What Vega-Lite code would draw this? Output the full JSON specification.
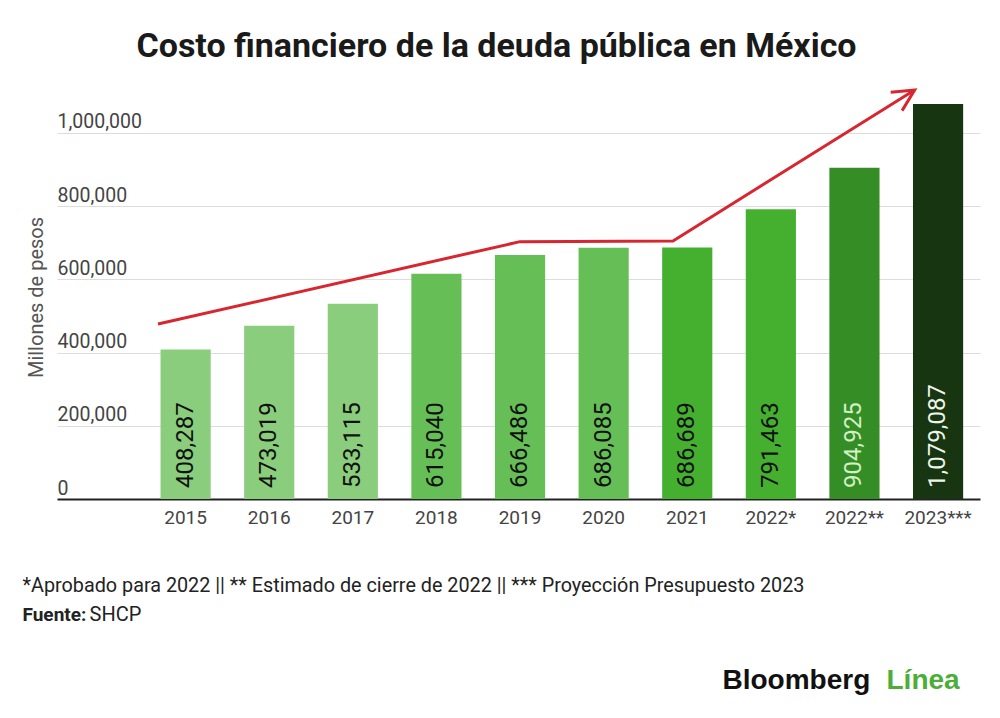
{
  "$schema": "https://vega.github.io/schema/vega-lite/v6.json",
  "background": "#ffffff",
  "autosize": {"type": "none"},
  "padding": {"left": 57, "top": 78, "right": 20, "bottom": 219},
  "width": 923,
  "height": 421,
  "config": {
    "font": "Roboto",
    "view": {"stroke": null},
    "axis": {"titleFontWeight": "normal"}
  },
  "title": {
    "text": "Costo financiero de la deuda pública en México",
    "font": "Roboto",
    "fontSize": 34,
    "fontWeight": "bold",
    "color": "#1a1a1a",
    "anchor": "middle",
    "frame": "group",
    "baseline": "alphabetic",
    "offset": 20,
    "dx": -22,
    "dy": 33
  },
  "layer": [
    {
      "data": {
        "values": [
          {"anio": "2015", "costo": 408287},
          {"anio": "2016", "costo": 473019},
          {"anio": "2017", "costo": 533115},
          {"anio": "2018", "costo": 615040},
          {"anio": "2019", "costo": 666486},
          {"anio": "2020", "costo": 686085},
          {"anio": "2021", "costo": 686689},
          {"anio": "2022*", "costo": 791463},
          {"anio": "2022**", "costo": 904925},
          {"anio": "2023***", "costo": 1079087}
        ]
      },
      "encoding": {
        "x": {
          "field": "anio",
          "type": "nominal",
          "sort": null,
          "scale": {"paddingInner": 0.4, "paddingOuter": 0.72, "align": 0.86},
          "axis": {
            "title": "*Aprobado para 2022 || ** Estimado de cierre de 2022 || *** Proyección Presupuesto 2023",
            "titleFont": "Roboto",
            "titleFontSize": 19.8,
            "titleColor": "#222222",
            "titleX": -35,
            "titleY": 92,
            "titleAlign": "left",
            "titleBaseline": "alphabetic",
            "titleAngle": 0,
            "labelAngle": 0,
            "labelFontSize": 19,
            "labelColor": "#444444",
            "labelBaseline": "alphabetic",
            "labelPadding": 24,
            "ticks": false,
            "tickSize": 0,
            "domainColor": "#222222",
            "domainWidth": 2
          }
        },
        "y": {
          "field": "costo",
          "type": "quantitative",
          "scale": {"domain": [0, 1150000], "nice": false},
          "axis": {
            "title": "Millones de pesos",
            "titleFontSize": 20,
            "titleColor": "#555555",
            "titleX": -21,
            "titleY": 219,
            "titleAlign": "center",
            "titleBaseline": "middle",
            "values": [0, 200000, 400000, 600000, 800000, 1000000],
            "format": ",d",
            "labelAlign": "left",
            "labelBaseline": "alphabetic",
            "labelOffset": -5,
            "labelPadding": 0,
            "labelFontSize": 19.5,
            "labelColor": "#444444",
            "ticks": false,
            "tickSize": 0,
            "domain": false,
            "gridColor": "#dddddd",
            "gridWidth": 1
          }
        }
      },
      "layer": [
        {
          "mark": {"type": "bar"},
          "encoding": {
            "color": {
              "field": "anio",
              "type": "nominal",
              "sort": null,
              "legend": null,
              "scale": {
                "domain": ["2015", "2016", "2017", "2018", "2019", "2020", "2021", "2022*", "2022**", "2023***"],
                "range": ["#8acd7c", "#8acd7c", "#8acd7c", "#66bf56", "#66bf56", "#66bf56", "#45b030", "#45b030", "#358e25", "#163510"]
              }
            }
          }
        },
        {
          "mark": {
            "type": "text",
            "angle": 270,
            "align": "left",
            "baseline": "middle",
            "dx": 11,
            "font": "Roboto",
            "fontSize": 24
          },
          "encoding": {
            "y": {"datum": 0},
            "text": {"field": "costo", "type": "quantitative", "format": ",d"},
            "color": {
              "condition": [
                {"test": "datum.costo > 1000000", "value": "#eef4ea"},
                {"test": "datum.costo > 850000", "value": "#d4f0c6"}
              ],
              "value": "#111111"
            }
          }
        }
      ]
    },
    {
      "data": {
        "values": [
          {"pos": -0.33, "valor": 478000},
          {"pos": 4.0, "valor": 703000},
          {"pos": 5.83, "valor": 705000},
          {"pos": 8.72, "valor": 1117000}
        ]
      },
      "mark": {"type": "line", "color": "#d7262f", "strokeWidth": 3, "clip": false},
      "encoding": {
        "x": {
          "field": "pos",
          "type": "quantitative",
          "scale": {"domain": [-1.538, 9.502], "nice": false, "zero": false},
          "axis": {
            "orient": "bottom",
            "title": "Fuente:",
            "titleFont": "Roboto",
            "titleFontSize": 19,
            "titleFontWeight": "bold",
            "titleColor": "#222222",
            "titleX": -35,
            "titleY": 121,
            "titleAlign": "left",
            "titleBaseline": "alphabetic",
            "labels": false,
            "ticks": false,
            "domain": false,
            "grid": false
          }
        },
        "y": {
          "field": "valor",
          "type": "quantitative",
          "scale": {"domain": [0, 1150000], "nice": false},
          "axis": {
            "orient": "left",
            "title": "SHCP",
            "titleFont": "Roboto",
            "titleFontSize": 20,
            "titleColor": "#222222",
            "titleAngle": 0,
            "titleX": 32,
            "titleY": 542,
            "titleAlign": "left",
            "titleBaseline": "alphabetic",
            "labels": false,
            "ticks": false,
            "domain": false,
            "grid": false
          }
        }
      }
    },
    {
      "data": {"values": [{"pos": 8.72, "valor": 1117000}]},
      "mark": {
        "type": "point",
        "shape": "M -1 -0.5 L 0 0 L -1 0.5",
        "filled": false,
        "color": "#d7262f",
        "strokeWidth": 3,
        "size": 1850,
        "angle": -32,
        "opacity": 1,
        "clip": false
      },
      "encoding": {
        "x": {
          "field": "pos",
          "type": "quantitative",
          "scale": {"domain": [-1.538, 9.502], "nice": false, "zero": false},
          "axis": {
            "orient": "bottom",
            "title": "Bloomberg",
            "titleFont": "Liberation Sans",
            "titleFontSize": 28,
            "titleFontWeight": "bold",
            "titleColor": "#111111",
            "titleX": 665,
            "titleY": 189,
            "titleAlign": "left",
            "titleBaseline": "alphabetic",
            "labels": false,
            "ticks": false,
            "domain": false,
            "grid": false
          }
        },
        "y": {
          "field": "valor",
          "type": "quantitative",
          "scale": {"domain": [0, 1150000], "nice": false},
          "axis": {
            "orient": "left",
            "title": "Línea",
            "titleFont": "Liberation Sans",
            "titleFontSize": 28,
            "titleFontWeight": "bold",
            "titleColor": "#4cae38",
            "titleAngle": 0,
            "titleX": 829,
            "titleY": 610,
            "titleAlign": "left",
            "titleBaseline": "alphabetic",
            "labels": false,
            "ticks": false,
            "domain": false,
            "grid": false
          }
        }
      }
    }
  ],
  "resolve": {
    "scale": {"x": "independent", "y": "independent"},
    "axis": {"x": "independent", "y": "independent"}
  }
}
